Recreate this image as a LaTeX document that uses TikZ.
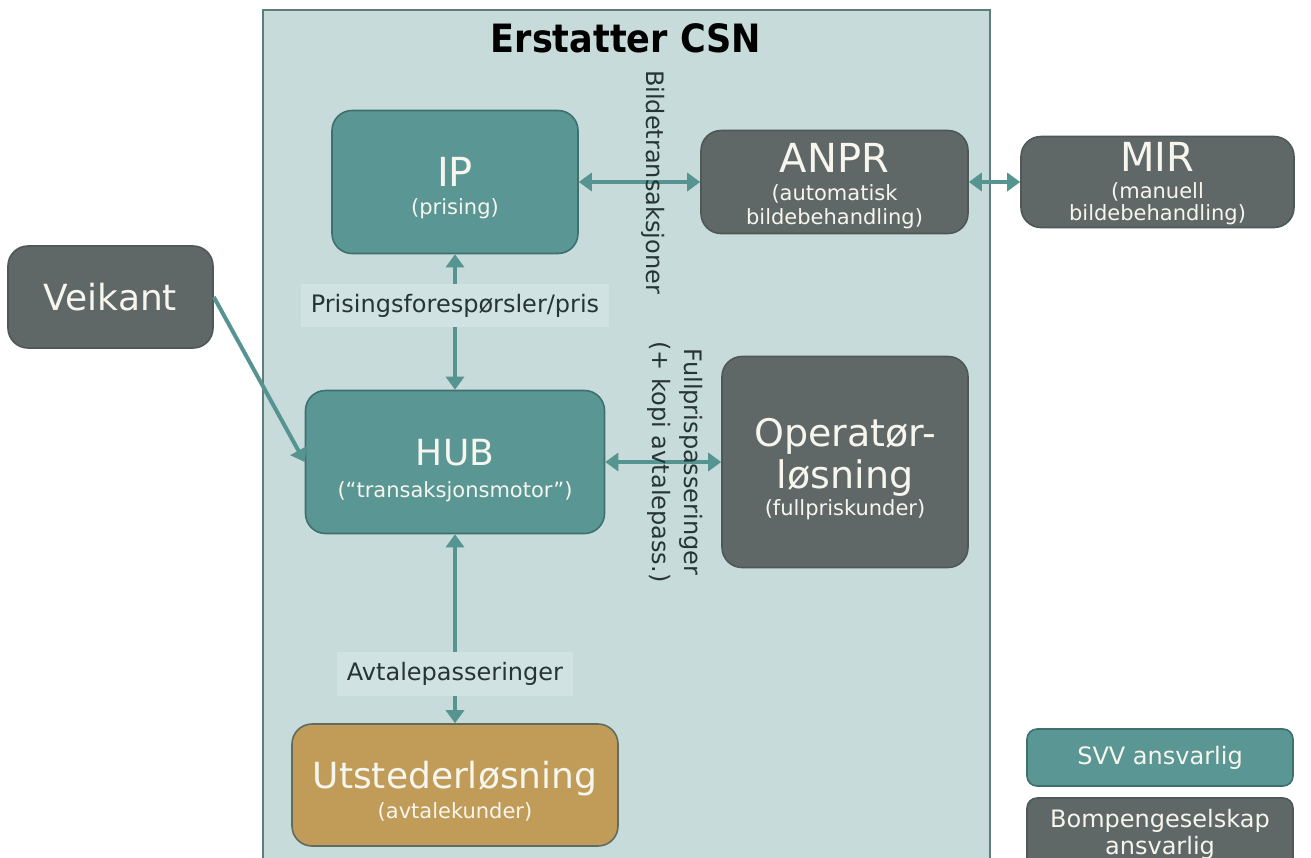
\documentclass[tikz,border=0pt]{standalone}
\usepackage{fontspec}
\setmainfont{DejaVu Sans}
\newfontfamily\titlefont{DejaVu Sans Condensed}
\usetikzlibrary{positioning, calc, arrows.meta}
\definecolor{panelbg}{RGB}{199,219,219}
\definecolor{panelline}{RGB}{95,125,125}
\definecolor{labelbg}{RGB}{208,226,226}
\definecolor{svvfill}{RGB}{90,150,147}
\definecolor{svvline}{RGB}{62,112,110}
\definecolor{bompfill}{RGB}{96,103,103}
\definecolor{bompline}{RGB}{78,88,88}
\definecolor{issuerfill}{RGB}{192,156,88}
\definecolor{issuerline}{RGB}{95,108,95}
\definecolor{arrowteal}{RGB}{85,148,145}
\definecolor{boxtext}{RGB}{246,246,238}
\definecolor{labeltext}{RGB}{38,52,52}
\tikzstyle{Arrow} = [
%Two-way connector:
line width=2pt, draw=arrowteal,
{Triangle[width=9pt,length=6.5pt]}-{Triangle[width=9pt,length=6.5pt]}
]
\tikzstyle{OneWay} = [line width=2pt, draw=arrowteal, -{Triangle[width=9pt,length=6.5pt]}]
\newcommand{\hugetxt}{\fontsize{20}{22}\selectfont}
\newcommand{\bigtxt}{\fontsize{18}{21}\selectfont}
\newcommand{\subtxt}{\fontsize{10.5}{12}\selectfont}
\newcommand{\lift}[1]{\rule{0pt}{#1}}

\begin{document}
\begin{tikzpicture}[x=0.5pt, y=-0.5pt,
			svv/.style = {rectangle, rounded corners=10pt, draw=svvline, fill=svvfill, line width=0.8pt, text=boxtext, align=center, inner sep=0pt},
			bomp/.style = {rectangle, rounded corners=10pt, draw=bompline, fill=bompfill, line width=0.8pt, text=boxtext, align=center, inner sep=0pt},
			issuer/.style = {rectangle, rounded corners=10pt, draw=issuerline, fill=issuerfill, line width=0.8pt, text=boxtext, align=center, inner sep=0pt},
			key/.style = {rounded corners=5pt, minimum width=133pt, font=\fontsize{12}{13.5}\selectfont},
			flowlabel/.style = {text=labeltext, font=\fontsize{12}{16}\selectfont, align=center},
		]
		\useasboundingbox (0,0) rectangle (1311,857);
		\draw[draw=panelline, fill=panelbg, line width=1pt] (263,10) rectangle (990,880);
		\node[font=\titlefont\bfseries\fontsize{19.5}{22}\selectfont] (title) at (626,38) {Erstatter CSN};

		\node[svv, minimum width=123pt, minimum height=71.5pt] (IP) at (455,182) {{\hugetxt\lift{20.6pt}IP}\\[2.3pt]{\subtxt (prising)}};
		\node[bomp, minimum width=133.5pt, minimum height=51.5pt] (ANPR) at (834.5,182) {{\hugetxt\lift{18.6pt}ANPR}\\[2pt]{\subtxt (automatisk}\\{\subtxt bildebehandling)}};
		\node[bomp, minimum width=136.5pt, minimum height=45.5pt] (MIR) at (1157.5,182) {{\hugetxt\lift{16pt}MIR}\\[1.5pt]{\subtxt (manuell}\\[-0.8pt]{\subtxt bildebehandling)}};
		\node[bomp, minimum width=102.5pt, minimum height=51pt] (Veikant) at (110.5,297) {\bigtxt Veikant};
		\node[svv, minimum width=149.5pt, minimum height=71.5pt] (HUB) at (455,462) {{\bigtxt\lift{21.6pt}HUB}\\[4pt]{\subtxt (“transaksjonsmotor”)}};
		\node[bomp, minimum width=123pt, minimum height=105.5pt] (OP) at (845,462) {{\fontsize{19}{22}\selectfont\lift{21.1pt}Operatør-}\\[1.5pt]{\fontsize{19}{22}\selectfont løsning}\\[1.5pt]{\subtxt (fullpriskunder)}};
		\node[issuer, minimum width=163pt, minimum height=61pt] (UTS) at (455,785) {{\bigtxt\lift{19.7pt}Utstederløsning}\\[3pt]{\subtxt (avtalekunder)}};

		\node[svv, key, minimum height=28.5pt] (SVVkey) at (1160,757.5) {SVV ansvarlig};
		\node[bomp, key, minimum height=36pt] (BOMPkey) at (1160,834) {Bompengeselskap\\ansvarlig};

		\draw[Arrow](IP)--node[pos=0.61, rotate=-90, flowlabel] {Bildetransaksjoner}(ANPR);
		\draw[Arrow](ANPR)--(MIR);
		\draw[Arrow](IP)--node[pos=0.38, flowlabel, fill=labelbg, inner sep=5pt] {Prisingsforespørsler/pris}(HUB);
		\draw[OneWay](Veikant.east)--(HUB.west);
		\draw[Arrow](HUB)--node[pos=0.6, rotate=-90, flowlabel] {Fullprispasseringer\\(+ kopi avtalepass.)}(OP);
		\draw[Arrow](HUB)--node[pos=0.74, flowlabel, fill=labelbg, inner sep=5pt] {Avtalepasseringer}(UTS);
	\end{tikzpicture}
\end{document}
